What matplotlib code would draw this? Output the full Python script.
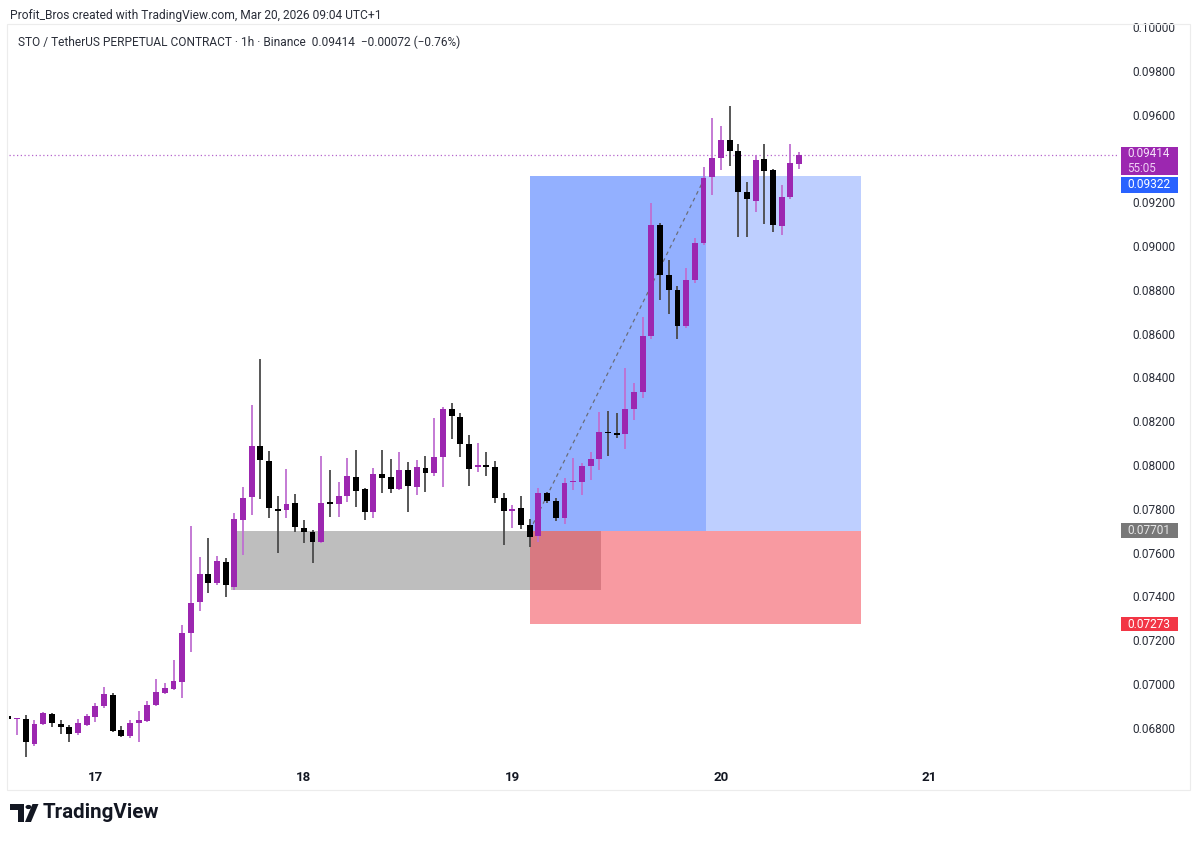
import matplotlib
matplotlib.use('Agg')
import matplotlib.pyplot as plt
import matplotlib.dates as mdates
from matplotlib.patches import Rectangle, Circle, Polygon
from matplotlib.transforms import blended_transform_factory
import numpy as np
import pandas as pd

W, H = 1200, 841

# 1h candles, STO/USDT perp, from Mar 16 14:00 to Mar 20 09:00
times = pd.date_range('2026-03-16 14:00', periods=92, freq='h')

opens = [0.06854, 0.06840, 0.06840, 0.06726, 0.06817, 0.06863, 0.06817, 0.06804, 0.06776, 0.06813,
         0.06849, 0.06900, 0.06950, 0.06790, 0.06763, 0.06822, 0.06831, 0.06904, 0.06959, 0.06977,
         0.07009, 0.07233, 0.07374, 0.07502, 0.07461, 0.07557, 0.07443, 0.07749, 0.07854, 0.08087,
         0.08018, 0.07799, 0.07795, 0.07826, 0.07712, 0.07694, 0.07648, 0.07826, 0.07822, 0.07858,
         0.07945, 0.07890, 0.07785, 0.07959, 0.07945, 0.07890, 0.07977, 0.07900, 0.07986, 0.07963,
         0.08037, 0.08256, 0.08219, 0.08096, 0.07991, 0.07995, 0.07991, 0.07849, 0.07790, 0.07804,
         0.07726, 0.07676, 0.07872, 0.07836, 0.07758, 0.07922, 0.07922, 0.07995, 0.08027, 0.08151,
         0.08146, 0.08142, 0.08256, 0.08333, 0.08589, 0.09096, 0.08868, 0.08799, 0.08635, 0.08845,
         0.09014, 0.09315, 0.09402, 0.09484, 0.09434, 0.09247, 0.09205, 0.09397, 0.09347, 0.09091,
         0.09224, 0.09374]
highs = [0.06856, 0.06845, 0.06859, 0.06836, 0.06872, 0.06868, 0.06836, 0.06813, 0.06840, 0.06863,
         0.06913, 0.06986, 0.06959, 0.06808, 0.06836, 0.06877, 0.06922, 0.07023, 0.07005, 0.07110,
         0.07269, 0.07721, 0.07580, 0.07667, 0.07584, 0.07575, 0.07781, 0.07900, 0.08274, 0.08484,
         0.08064, 0.07858, 0.07982, 0.07868, 0.07749, 0.07703, 0.08041, 0.07977, 0.07922, 0.08032,
         0.08068, 0.07895, 0.07986, 0.08068, 0.08027, 0.08059, 0.08014, 0.08023, 0.08041, 0.08215,
         0.08265, 0.08283, 0.08237, 0.08137, 0.08100, 0.08059, 0.08018, 0.07872, 0.07817, 0.07858,
         0.07753, 0.07895, 0.07877, 0.07849, 0.07941, 0.08032, 0.08009, 0.08059, 0.08242, 0.08247,
         0.08237, 0.08443, 0.08374, 0.08676, 0.09196, 0.09105, 0.08936, 0.08817, 0.08900, 0.09036,
         0.09361, 0.09584, 0.09548, 0.09639, 0.09466, 0.09292, 0.09415, 0.09466, 0.09352, 0.09278,
         0.09466, 0.09429]
lows = [0.06838, 0.06767, 0.06667, 0.06717, 0.06813, 0.06804, 0.06772, 0.06735, 0.06767, 0.06808,
        0.06827, 0.06890, 0.06781, 0.06758, 0.06753, 0.06735, 0.06827, 0.06900, 0.06954, 0.06973,
        0.06936, 0.07146, 0.07333, 0.07416, 0.07452, 0.07397, 0.07429, 0.07589, 0.07772, 0.07845,
        0.07758, 0.07598, 0.07758, 0.07694, 0.07644, 0.07553, 0.07644, 0.07763, 0.07763, 0.07831,
        0.07808, 0.07749, 0.07758, 0.07872, 0.07872, 0.07886, 0.07785, 0.07863, 0.07877, 0.07950,
        0.07900, 0.08119, 0.08037, 0.07904, 0.07968, 0.07950, 0.07826, 0.07635, 0.07712, 0.07708,
        0.07626, 0.07648, 0.07826, 0.07744, 0.07731, 0.07886, 0.07863, 0.07932, 0.07977, 0.08041,
        0.08123, 0.08073, 0.08205, 0.08306, 0.08575, 0.08753, 0.08689, 0.08575, 0.08626, 0.08831,
        0.09005, 0.09233, 0.09347, 0.09365, 0.09041, 0.09041, 0.09155, 0.09100, 0.09064, 0.09050,
        0.09215, 0.09352]
closes = [0.06840, 0.06845, 0.06735, 0.06817, 0.06868, 0.06822, 0.06804, 0.06772, 0.06822, 0.06854,
          0.06900, 0.06954, 0.06785, 0.06763, 0.06822, 0.06836, 0.06904, 0.06964, 0.06982, 0.07014,
          0.07233, 0.07370, 0.07502, 0.07461, 0.07562, 0.07452, 0.07753, 0.07849, 0.08087, 0.08023,
          0.07804, 0.07790, 0.07822, 0.07717, 0.07694, 0.07648, 0.07826, 0.07822, 0.07858, 0.07950,
          0.07881, 0.07785, 0.07959, 0.07941, 0.07890, 0.07977, 0.07904, 0.07991, 0.07963, 0.08037,
          0.08256, 0.08224, 0.08096, 0.07982, 0.08000, 0.07991, 0.07849, 0.07790, 0.07799, 0.07726,
          0.07671, 0.07872, 0.07836, 0.07758, 0.07918, 0.07927, 0.07995, 0.08027, 0.08151, 0.08146,
          0.08137, 0.08256, 0.08333, 0.08589, 0.09096, 0.08868, 0.08799, 0.08635, 0.08845, 0.09014,
          0.09310, 0.09402, 0.09484, 0.09434, 0.09247, 0.09215, 0.09393, 0.09342, 0.09096, 0.09224,
          0.09379, 0.09414]

# drawn zones / levels
last_price = 0.09414
target_price = 0.09322
entry_price = 0.07701
stop_price = 0.07273
demand_top, demand_bottom = 0.07701, 0.07429
demand_start, demand_end = '2026-03-17 15:40', '2026-03-19 10:10'
pos_start, pos_hit, pos_end = '2026-03-19 02:00', '2026-03-19 22:16', '2026-03-20 16:06'
day_ticks = ['2026-03-17', '2026-03-18', '2026-03-19', '2026-03-20', '2026-03-21']
day_labels = ['17', '18', '19', '20', '21']
# 0.09400 is hidden behind the last-price label
price_ticks = [0.068, 0.070, 0.072, 0.074, 0.076, 0.078, 0.080, 0.082, 0.084,
               0.086, 0.088, 0.090, 0.092, 0.096, 0.098, 0.100]

PURPLE = '#9c27b0'
PURPLE_WICK = '#bf6fd1'
BLACK = '#000000'
BLACK_WICK = '#4a4a4a'

fig = plt.figure(figsize=(W / 100, H / 100), dpi=100)
fig.patch.set_facecolor('white')
plt.rcParams['font.family'] = ['Roboto', 'DejaVu Sans']

# pane border
fig.patches.append(Rectangle((7 / W, 1 - 790 / H), 1183 / W, 766 / H, transform=fig.transFigure,
                             fill=False, edgecolor='#ececec', linewidth=0.8))

ax = fig.add_axes([9 / W, 1 - 760 / H, 1109 / W, 736 / H])
ax.set_facecolor('none')
for s in ax.spines.values():
    s.set_visible(False)

x = mdates.date2num(times)
o = np.array(opens); c = np.array(closes); hi = np.array(highs); lo = np.array(lows)
up = c >= o
bw = 0.68 / 24

# zones (under candles)
d0, d1 = mdates.date2num(pd.Timestamp(demand_start)), mdates.date2num(pd.Timestamp(demand_end))
ax.add_patch(Rectangle((d0, demand_bottom), d1 - d0, demand_top - demand_bottom,
                       facecolor='#bebebe', edgecolor='none', zorder=1))
p0 = mdates.date2num(pd.Timestamp(pos_start))
p1 = mdates.date2num(pd.Timestamp(pos_hit))
p2 = mdates.date2num(pd.Timestamp(pos_end))
ax.add_patch(Rectangle((p0, stop_price), p2 - p0, entry_price - stop_price,
                       facecolor=(242 / 255, 54 / 255, 69 / 255, 0.5), edgecolor='none', zorder=2))
ax.add_patch(Rectangle((p0, entry_price), p1 - p0, target_price - entry_price,
                       facecolor=(41 / 255, 98 / 255, 255 / 255, 0.5), edgecolor='none', zorder=2))
ax.add_patch(Rectangle((p1, entry_price), p2 - p1, target_price - entry_price,
                       facecolor=(41 / 255, 98 / 255, 255 / 255, 0.3), edgecolor='none', zorder=2))
ax.plot([p0, p1], [entry_price, target_price], color='#6a6d78', linestyle=(0, (3, 3)),
        linewidth=0.9, zorder=3)

# current price dotted line
ax.axhline(last_price, color='#b565cc', linestyle=(0, (1, 2)), linewidth=0.9, zorder=2)

# candles
ax.vlines(x, lo, hi, colors=np.where(up, PURPLE_WICK, BLACK_WICK), linewidth=1.3, zorder=4)
bottoms = np.minimum(o, c)
heights = np.maximum(np.abs(c - o), 0.00007)
ax.bar(x, heights, width=bw, bottom=bottoms, color=np.where(up, PURPLE, BLACK),
       edgecolor='none', zorder=5)

xmin = mdates.date2num(pd.Timestamp('2026-03-16 14:04'))
xmax = mdates.date2num(pd.Timestamp('2026-03-21 21:42'))
ax.set_xlim(xmin, xmax)
ax.set_ylim(0.06653, 0.10014)

ax.set_xticks(mdates.date2num(pd.to_datetime(day_ticks)))
ax.set_xticklabels(day_labels)
ax.tick_params(axis='x', length=0, pad=8, labelsize=9.5, labelcolor='#131722')
for t in ax.get_xticklabels():
    t.set_fontweight('bold')

ax.yaxis.tick_right()
ax.set_yticks(price_ticks)
ax.set_yticklabels([f'{v:.5f}' for v in price_ticks])
ax.tick_params(axis='y', length=0, pad=10, labelsize=8.6, labelcolor='#2a2e39')

# price scale labels
tr = blended_transform_factory(ax.transAxes, ax.transData)
px = 0.001 / 21.9
bx, bwid = 1.0025, 57 / 1109
tx = 1.0081


def price_box(top, bottom, color):
    ax.add_patch(Rectangle((bx, bottom), bwid, top - bottom, transform=tr, facecolor=color,
                           edgecolor='none', clip_on=False, zorder=10))


price_box(last_price + 8 * px, last_price - 20 * px, '#9c27b0')
ax.text(tx, last_price + 1.5 * px, f'{last_price:.5f}', transform=tr, color='#f6e3fa', fontsize=8.4,
        va='center', ha='left', clip_on=False, zorder=11)
ax.text(tx, last_price - 13.5 * px, '55:05', transform=tr, color='#f0d0f5', fontsize=8.4,
        va='center', ha='left', clip_on=False, zorder=11)
price_box(target_price - 1 * px, target_price - 17 * px, '#2962ff')
ax.text(tx, target_price - 9 * px, f'{target_price:.5f}', transform=tr, color='white', fontsize=8.6,
        va='center', ha='left', clip_on=False, zorder=11)
price_box(entry_price + 8 * px, entry_price - 7.5 * px, '#787878')
ax.text(tx, entry_price, f'{entry_price:.5f}', transform=tr, color='#e8e8e8', fontsize=8.6,
        va='center', ha='left', clip_on=False, zorder=11)
price_box(stop_price + 7.5 * px, stop_price - 7 * px, '#f23645')
ax.text(tx, stop_price, f'{stop_price:.5f}', transform=tr, color='white', fontsize=8.6,
        va='center', ha='left', clip_on=False, zorder=11)

# header texts
fig.text(10 / W, 1 - 15 / H, 'Profit_Bros created with TradingView.com, Mar 20, 2026 09:04 UTC+1',
         fontsize=8.65, color='#2a2e39', va='center', ha='left')
fig.text(18 / W, 1 - 42 / H,
         'STO / TetherUS PERPETUAL CONTRACT · 1h · Binance  0.09414  \u22120.00072 (\u22120.76%)',
         fontsize=8.55, color='#2a2e39', va='center', ha='left')

# TradingView logo
T = fig.transFigure


def fx(v):
    return v / W


def fy(v):
    return 1 - v / H


fig.patches.append(Polygon([(fx(10), fy(804)), (fx(24), fy(804)), (fx(24), fy(822)), (fx(18), fy(822)),
                            (fx(18), fy(810)), (fx(10), fy(810))], closed=True, transform=T,
                           facecolor='#131722', edgecolor='none'))
fig.patches.append(Circle((fx(28.5), fy(807)), 3 / W, transform=T, facecolor='#131722'))
fig.patches.append(Polygon([(fx(25), fy(822)), (fx(31), fy(822)), (fx(38.5), fy(804)), (fx(32.5), fy(804))],
                           closed=True, transform=T, facecolor='#131722', edgecolor='none'))
fig.text(43 / W, 1 - 813 / H, 'TradingView', fontsize=14.8, fontweight='bold', color='#131722',
         va='center', ha='left')

plt.savefig('out.png', dpi=100)
